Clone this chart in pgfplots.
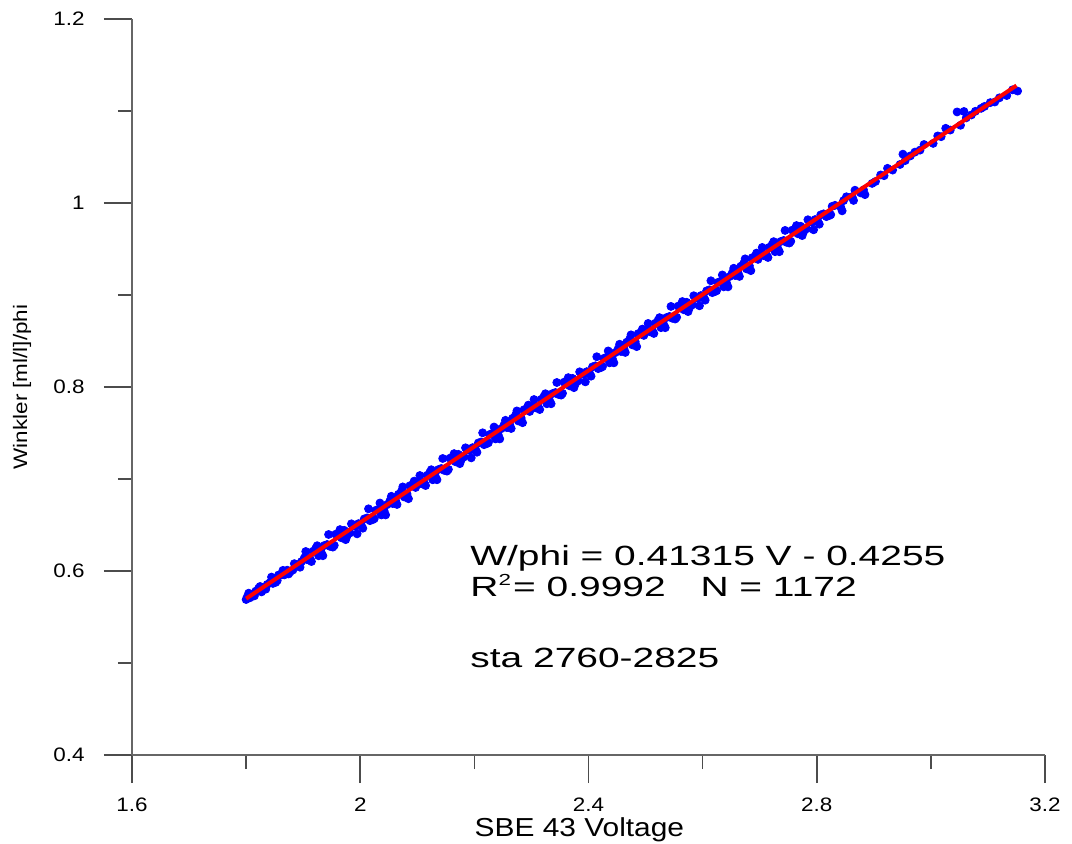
\documentclass[border=0pt]{standalone}
\usepackage{fontspec}
\setmainfont[FakeStretch=1.15]{Liberation Sans}
\newfontfamily\annfont[FakeStretch=1.4]{Liberation Sans}
\usepackage{pgfplots}
\pgfplotsset{compat=1.18}
\pgfplotstableread{
x y
1.800 0.5690
1.802 0.5720
1.807 0.5710
1.812 0.5731
1.817 0.5781
1.822 0.5813
1.827 0.5773
1.832 0.5804
1.837 0.5854
1.842 0.5875
1.847 0.5865
1.852 0.5877
1.857 0.5957
1.862 0.5958
1.867 0.5958
1.872 0.6009
1.877 0.5989
1.882 0.6011
1.887 0.6071
1.892 0.6072
1.897 0.6102
1.902 0.6143
1.907 0.6123
1.912 0.6134
1.917 0.6214
1.922 0.6246
1.927 0.6166
1.932 0.6197
1.937 0.6277
1.942 0.6288
1.947 0.6268
1.952 0.6260
1.957 0.6400
1.962 0.6381
1.967 0.6361
1.972 0.6442
1.977 0.6382
1.982 0.6414
1.987 0.6494
1.992 0.6485
1.997 0.6515
2.002 0.6496
2.007 0.6566
2.012 0.6577
2.017 0.6547
2.022 0.6559
2.027 0.6659
2.032 0.6670
2.037 0.6610
2.042 0.6651
2.047 0.6721
2.052 0.6763
2.057 0.6733
2.062 0.6764
2.067 0.6834
2.072 0.6865
2.077 0.6805
2.082 0.6837
2.087 0.6927
2.092 0.6938
2.097 0.6908
2.102 0.6969
2.107 0.6949
2.112 0.6960
2.117 0.7040
2.122 0.7072
2.127 0.6992
2.132 0.7023
2.137 0.7103
2.142 0.7114
2.147 0.7094
2.152 0.7086
2.157 0.7226
2.162 0.7207
2.167 0.7187
2.172 0.7268
2.177 0.7208
2.182 0.7240
2.187 0.7320
2.192 0.7311
2.197 0.7341
2.202 0.7322
2.207 0.7392
2.212 0.7403
2.217 0.7373
2.222 0.7385
2.227 0.7485
2.232 0.7496
2.237 0.7436
2.242 0.7477
2.247 0.7547
2.252 0.7589
2.257 0.7559
2.262 0.7590
2.267 0.7660
2.272 0.7691
2.277 0.7631
2.282 0.7663
2.287 0.7753
2.292 0.7764
2.297 0.7734
2.302 0.7795
2.307 0.7775
2.312 0.7786
2.317 0.7866
2.322 0.7898
2.327 0.7818
2.332 0.7849
2.337 0.7929
2.342 0.7940
2.347 0.7920
2.352 0.7912
2.357 0.8052
2.362 0.8033
2.367 0.8013
2.372 0.8094
2.377 0.8034
2.382 0.8066
2.387 0.8146
2.392 0.8137
2.397 0.8167
2.402 0.8149
2.407 0.8219
2.412 0.8230
2.417 0.8200
2.422 0.8212
2.427 0.8312
2.432 0.8323
2.437 0.8263
2.442 0.8304
2.447 0.8374
2.452 0.8416
2.457 0.8386
2.462 0.8417
2.467 0.8487
2.472 0.8518
2.477 0.8458
2.482 0.8490
2.487 0.8580
2.492 0.8591
2.497 0.8561
2.502 0.8622
2.507 0.8602
2.512 0.8613
2.517 0.8693
2.522 0.8725
2.527 0.8645
2.532 0.8676
2.537 0.8756
2.542 0.8767
2.547 0.8747
2.552 0.8739
2.557 0.8879
2.562 0.8860
2.567 0.8840
2.572 0.8921
2.577 0.8861
2.582 0.8893
2.587 0.8973
2.592 0.8964
2.597 0.8994
2.602 0.8975
2.607 0.9045
2.612 0.9056
2.617 0.9026
2.622 0.9038
2.627 0.9138
2.632 0.9149
2.637 0.9089
2.642 0.9130
2.647 0.9200
2.652 0.9242
2.657 0.9212
2.662 0.9243
2.667 0.9313
2.672 0.9344
2.677 0.9284
2.682 0.9316
2.687 0.9406
2.692 0.9417
2.697 0.9387
2.702 0.9448
2.707 0.9428
2.712 0.9439
2.717 0.9519
2.722 0.9551
2.727 0.9471
2.732 0.9502
2.737 0.9582
2.742 0.9593
2.747 0.9573
2.752 0.9565
2.757 0.9705
2.762 0.9686
2.767 0.9666
2.772 0.9747
2.777 0.9687
2.782 0.9719
2.787 0.9799
2.792 0.9790
2.797 0.9820
2.802 0.9801
2.807 0.9871
2.812 0.9882
2.817 0.9852
2.822 0.9864
2.827 0.9964
2.832 0.9975
2.842 0.9956
2.847 1.0026
2.852 1.0068
2.862 1.0069
2.867 1.0139
2.877 1.0110
2.882 1.0142
2.897 1.0213
2.903 1.0234
2.912 1.0305
2.918 1.0297
2.924 1.0377
2.933 1.0358
2.946 1.0419
2.951 1.0531
2.955 1.0461
2.964 1.0512
2.972 1.0553
2.981 1.0575
2.988 1.0636
3.004 1.0648
3.012 1.0729
3.018 1.0721
3.026 1.0812
3.034 1.0793
3.046 1.0990
3.052 1.0845
3.058 1.0995
3.062 1.0926
3.071 1.0957
3.078 1.0997
3.088 1.1029
3.094 1.1050
3.104 1.1091
3.112 1.1098
3.120 1.1143
3.133 1.1168
3.143 1.1230
3.152 1.1217
1.8045 0.5759
1.8145 0.5730
1.8245 0.5832
1.8345 0.5803
1.8445 0.5934
1.8545 0.5896
1.8645 0.6007
1.8745 0.5968
1.8845 0.6080
1.8945 0.6041
1.9045 0.6212
1.9145 0.6103
1.9245 0.6275
1.9345 0.6166
1.9445 0.6397
1.9545 0.6279
1.9645 0.6450
1.9745 0.6341
1.9845 0.6513
1.9945 0.6404
2.0045 0.6465
2.0145 0.6676
2.0245 0.6568
2.0345 0.6739
2.0445 0.6610
2.0545 0.6812
2.0645 0.6723
2.0745 0.6914
2.0845 0.6786
2.0945 0.6977
2.1045 0.7038
2.1145 0.6929
2.1245 0.7101
2.1345 0.6992
2.1445 0.7223
2.1545 0.7105
2.1645 0.7276
2.1745 0.7167
2.1845 0.7339
2.1945 0.7230
2.2045 0.7291
2.2145 0.7502
2.2245 0.7394
2.2345 0.7565
2.2445 0.7436
2.2545 0.7638
2.2645 0.7549
2.2745 0.7740
2.2845 0.7612
2.2945 0.7803
2.3045 0.7864
2.3145 0.7755
2.3245 0.7927
2.3345 0.7818
2.3445 0.8049
2.3545 0.7931
2.3645 0.8102
2.3745 0.7993
2.3845 0.8165
2.3945 0.8056
2.4045 0.8118
2.4145 0.8329
2.4245 0.8221
2.4345 0.8392
2.4445 0.8263
2.4545 0.8465
2.4645 0.8376
2.4745 0.8567
2.4845 0.8439
2.4945 0.8630
2.5045 0.8691
2.5145 0.8582
2.5245 0.8754
2.5345 0.8645
2.5445 0.8876
2.5545 0.8758
2.5645 0.8929
2.5745 0.8820
2.5845 0.8992
2.5945 0.8883
2.6045 0.8944
2.6145 0.9155
2.6245 0.9047
2.6345 0.9218
2.6445 0.9089
2.6545 0.9291
2.6645 0.9202
2.6745 0.9393
2.6845 0.9265
2.6945 0.9456
2.7045 0.9517
2.7145 0.9408
2.7245 0.9580
2.7345 0.9471
2.7445 0.9702
2.7545 0.9584
2.7645 0.9755
2.7745 0.9646
2.7845 0.9818
2.7945 0.9709
2.8045 0.9770
2.8245 0.9873
2.8445 0.9915
2.8645 1.0028
2.8845 1.0091
}\scatterdata
\begin{document}
\begin{tikzpicture}
\begin{axis}[
  scale only axis,
  width=456.5pt, height=368pt,
  xmin=1.6, xmax=3.2, ymin=0.4, ymax=1.2,
  axis x line=bottom, axis y line=left,
  axis line style={-, draw=black!60, line width=1pt},
  tick align=outside,
  major tick length=14pt, minor tick length=7pt,
  tick style={draw=black!70, line width=0.75pt},
  xtick={1.6,2,2.4,2.8,3.2},
  ytick={0.4,0.6,0.8,1,1.2},
  xticklabels={1.6,2,2.4,2.8,3.2},
  yticklabels={0.4,0.6,0.8,1,1.2},
  minor x tick num=1, minor y tick num=1,
  /pgf/number format/assume math mode=true,
  tick label style={font=\fontsize{9.75}{11}\selectfont, inner sep=0pt},
  xticklabel style={anchor=north, yshift=-7pt},
  yticklabel style={anchor=east, xshift=-9.5pt},
  xlabel={SBE 43 Voltage},
  ylabel={Winkler [ml/l]/phi},
  x label style={font=\fontsize{13}{15}\selectfont, inner sep=0pt, at={(axis description cs:0.49,-0.0842)}, anchor=north},
  y label style={font=\fontsize{9.75}{11}\selectfont, inner sep=0pt, at={(axis description cs:-0.1205,0.5)}, anchor=center, rotate=0},
  clip marker paths=true,
]
\addplot[only marks, mark=*, mark size=2pt, mark options={draw=blue, fill=blue}] table[x=x, y=y] {\scatterdata};
\addplot[red, line width=2pt] coordinates {(1.8,0.5700) (3.15,1.1277)};
\node[anchor=base west, inner sep=0pt, font=\annfont\fontsize{13.9}{16}\selectfont] at (axis cs:2.1924,0.6059) {W/phi = 0.41315 V - 0.4255};
\node[anchor=base west, inner sep=0pt, font=\annfont\fontsize{13.9}{16}\selectfont] at (axis cs:2.1924,0.5721) {R\raisebox{0.42em}{\fontsize{8}{9}\selectfont 2}\hspace{0.08em}= 0.9992\hspace{1.25em}N = 1172};
\node[anchor=base west, inner sep=0pt, font=\annfont\fontsize{13.9}{16}\selectfont] at (axis cs:2.1924,0.4948) {sta 2760-2825};
\end{axis}
\pgfresetboundingbox
\path (-66pt,-44pt) rectangle (470pt,377.5pt);
\end{tikzpicture}
\end{document}
